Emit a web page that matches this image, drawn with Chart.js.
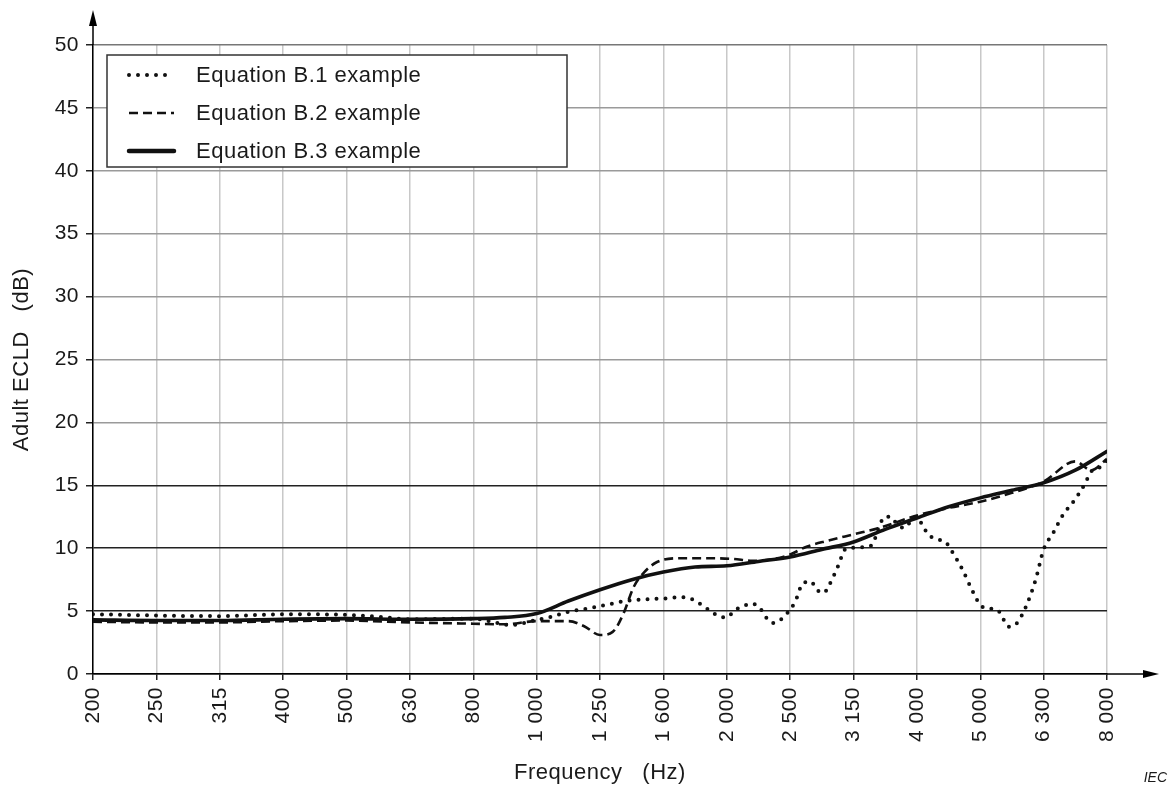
<!DOCTYPE html>
<html>
<head>
<meta charset="utf-8">
<title>Adult ECLD</title>
<script src="https://cdn.jsdelivr.net/npm/chart.js@4.4.1/dist/chart.umd.min.js"></script>
<style>
    html, body { margin: 0; padding: 0; background: #fff; }
    #chart { display: block; }
</style>
</head>
<body>
<canvas id="chart" width="1174" height="787"></canvas>
<script>
// ---- data (x = position in 1/3-octave bands, 0 = 200 Hz, 16 = 8 000 Hz) ----
const bandLabels = ['200', '250', '315', '400', '500', '630', '800', '1 000', '1 250',
    '1 600', '2 000', '2 500', '3 150', '4 000', '5 000', '6 300', '8 000'];

const b1Pos = [0, 1, 2, 3, 4, 4.5, 5, 6, 6.6, 7, 7.2, 7.5, 7.8, 8.1, 8.4, 8.6, 9.0, 9.3, 9.47, 9.6,
    9.73, 9.87, 10.0, 10.12, 10.26, 10.4, 10.53, 10.62, 10.73, 10.87, 10.98, 11.08, 11.2, 11.33,
    11.42, 11.53, 11.62, 11.75, 11.88, 12.05, 12.18, 12.3, 12.4, 12.5, 12.58, 12.69, 12.8, 12.9,
    13.0, 13.1, 13.2, 13.34, 13.47, 13.56, 13.72, 13.85, 14.0, 14.13, 14.27, 14.36, 14.45, 14.57,
    14.66, 14.78, 14.88, 15.0, 15.15, 15.3, 15.5, 15.66, 15.75, 15.85, 16];
const b1Vals = [4.75, 4.65, 4.6, 4.75, 4.7, 4.55, 4.35, 4.4, 3.9, 4.3, 4.5, 4.95, 5.2, 5.5, 5.8, 5.9, 6.0, 6.1, 5.9, 5.5,
    5.05, 4.6, 4.5, 5.05, 5.4, 5.6, 5.2, 4.5, 4.05, 4.4, 5.0, 5.75, 7.2, 7.35,
    6.7, 6.45, 7.1, 8.5, 9.95, 10.05, 10.1, 10.3, 11.7, 12.5, 12.5, 11.9, 11.6, 12.1,
    12.5, 11.7, 11.0, 10.7, 10.4, 9.7, 8.3, 6.9, 5.5, 5.2, 5.1, 4.4, 3.75, 4.0,
    4.7, 6.1, 7.6, 9.9, 11.2, 12.6, 13.9, 15.2, 16.1, 16.3, 17.0];

const b2Pos = [0, 1, 2, 3, 4, 5, 6, 6.5, 7, 7.5, 7.75, 8, 8.2, 8.37, 8.53, 8.7, 8.9, 9.25, 9.7, 10.1,
    10.4, 10.7, 11, 11.25, 11.6, 12, 12.4, 13, 13.5, 14, 14.5, 15, 15.5, 15.75, 16];
const b2Vals = [4.15, 4.1, 4.1, 4.2, 4.25, 4.1, 4.0, 3.95, 4.2, 4.2, 3.8, 3.1, 3.35, 4.8, 6.9, 8.1, 8.9, 9.2, 9.2, 9.15,
    9.0, 9.1, 9.5, 10.1, 10.6, 11.1, 11.6, 12.6, 13.2, 13.7, 14.4, 15.3, 16.9, 16.2, 17.1];

const b3Pos = [0, 1, 2, 3, 4, 5, 6, 6.5, 7, 7.5, 8, 8.5, 9, 9.5, 10, 10.5, 11, 11.5, 12, 12.5,
    13, 13.5, 14, 14.5, 15, 15.5, 16];
const b3Vals = [4.3, 4.25, 4.25, 4.35, 4.4, 4.35, 4.4, 4.5, 4.8, 5.8, 6.7, 7.5, 8.1, 8.5, 8.6, 8.95, 9.3, 9.9, 10.5, 11.5,
    12.4, 13.3, 14.0, 14.6, 15.2, 16.2, 17.7];

const seriesNames = ['Equation B.1 example', 'Equation B.2 example', 'Equation B.3 example'];

const FONT = "'Liberation Sans', Arial, sans-serif";
const INK = '#1a1a1a';

function toPoints(xs, ys) {
    return xs.map((x, i) => ({ x: x, y: ys[i] }));
}

// The original lettering is a little wider than Arial: add some tracking
const tracking = {
    id: 'tracking',
    beforeLayout(chart) { chart.ctx.letterSpacing = '0.5px'; },
    beforeDraw(chart) { chart.ctx.letterSpacing = '0.5px'; }
};

// Legend box drawn inside the plot, top left
const boxLegend = {
    id: 'boxLegend',
    afterDraw(chart) {
        const ctx = chart.ctx;
        const box = { x: 107, y: 55, w: 460, h: 112 };
        ctx.save();
        ctx.fillStyle = '#fff';
        ctx.fillRect(box.x, box.y, box.w, box.h);
        ctx.strokeStyle = '#333';
        ctx.lineWidth = 1.5;
        ctx.strokeRect(box.x, box.y, box.w, box.h);

        chart.data.datasets.forEach((ds, i) => {
            const y = 75 + i * 38;
            ctx.beginPath();
            ctx.strokeStyle = ds.borderColor;
            ctx.lineWidth = i === 2 ? 4.5 : ds.borderWidth;
            ctx.lineCap = ds.borderCapStyle || 'butt';
            ctx.setLineDash(ds.borderDash || []);
            ctx.moveTo(129, y);
            ctx.lineTo(174, y);
            ctx.stroke();
            ctx.setLineDash([]);

            ctx.fillStyle = INK;
            ctx.font = '22px ' + FONT;
            ctx.textBaseline = 'middle';
            ctx.textAlign = 'left';
            ctx.fillText(ds.label, 196, y + 1);
        });
        ctx.restore();
    }
};

// Axis arrows and the IEC mark
const axisArrows = {
    id: 'axisArrows',
    afterDraw(chart) {
        const ctx = chart.ctx;
        const a = chart.chartArea;
        ctx.save();
        ctx.strokeStyle = '#000';
        ctx.fillStyle = '#000';
        ctx.lineWidth = 1.5;

        // y axis up
        ctx.beginPath();
        ctx.moveTo(a.left, a.top);
        ctx.lineTo(a.left, 20);
        ctx.stroke();
        ctx.beginPath();
        ctx.moveTo(a.left, 10);
        ctx.lineTo(a.left - 4, 26);
        ctx.lineTo(a.left + 4, 26);
        ctx.closePath();
        ctx.fill();

        // x axis right
        ctx.beginPath();
        ctx.moveTo(a.right, a.bottom);
        ctx.lineTo(1150, a.bottom);
        ctx.stroke();
        ctx.beginPath();
        ctx.moveTo(1159, a.bottom);
        ctx.lineTo(1143, a.bottom - 4);
        ctx.lineTo(1143, a.bottom + 4);
        ctx.closePath();
        ctx.fill();

        ctx.letterSpacing = '0px';
        ctx.font = 'italic 14px ' + FONT;
        ctx.fillStyle = INK;
        ctx.textAlign = 'right';
        ctx.textBaseline = 'alphabetic';
        ctx.fillText('IEC', 1167, 782);
        ctx.restore();
    }
};

const ctx = document.getElementById('chart');
new Chart(ctx, {
    type: 'line',
    data: {
        datasets: [{
            label: seriesNames[0],
            data: toPoints(b1Pos, b1Vals),
            borderColor: '#111',
            borderWidth: 4,
            borderDash: [0, 9],
            borderCapStyle: 'round',
            pointRadius: 0,
            fill: false,
            cubicInterpolationMode: 'monotone'
        }, {
            label: seriesNames[1],
            data: toPoints(b2Pos, b2Vals),
            borderColor: '#111',
            borderWidth: 2.6,
            borderDash: [9, 5],
            borderCapStyle: 'butt',
            pointRadius: 0,
            fill: false,
            cubicInterpolationMode: 'monotone'
        }, {
            label: seriesNames[2],
            data: toPoints(b3Pos, b3Vals),
            borderColor: '#111',
            borderWidth: 3.6,
            borderCapStyle: 'round',
            pointRadius: 0,
            fill: false,
            cubicInterpolationMode: 'monotone'
        }]
    },
    options: {
        responsive: false,
        animation: false,
        devicePixelRatio: 1,
        layout: {
            padding: { top: 45, right: 67, left: 0, bottom: 0 }
        },
        plugins: {
            legend: { display: false },
            tooltip: { enabled: false }
        },
        scales: {
            x: {
                type: 'linear',
                min: 0,
                max: 16,
                afterFit: (scale) => { scale.height = 113; },
                ticks: {
                    stepSize: 1,
                    autoSkip: false,
                    minRotation: 90,
                    maxRotation: 90,
                    color: INK,
                    padding: 7,
                    font: { size: 21, family: FONT },
                    callback: (v) => bandLabels[v]
                },
                grid: {
                    color: '#c8c8c8',
                    lineWidth: 1.5,
                    tickColor: '#222',
                    tickLength: 6
                },
                border: { display: true, color: '#000', width: 1.5 },
                title: {
                    display: true,
                    text: 'Frequency   (Hz)',
                    color: INK,
                    font: { size: 22, family: FONT },
                    padding: { top: 0, bottom: 1 }
                }
            },
            y: {
                min: 0,
                max: 50,
                afterFit: (scale) => { scale.width = 93; },
                ticks: {
                    stepSize: 5,
                    color: INK,
                    padding: 7,
                    font: { size: 21, family: FONT }
                },
                grid: {
                    color: (c) => {
                        const v = c.tick ? c.tick.value : 0;
                        if (v === 50) return '#777';
                        return v <= 15 ? '#222' : '#9a9a9a';
                    },
                    lineWidth: 1.5,
                    tickColor: '#222',
                    tickLength: 7
                },
                border: { display: true, color: '#000', width: 1.5 },
                title: {
                    display: true,
                    text: 'Adult ECLD   (dB)',
                    color: INK,
                    font: { size: 22, family: FONT },
                    padding: { top: 9, bottom: 0 }
                }
            }
        }
    },
    plugins: [tracking, boxLegend, axisArrows]
});
</script>
</body>
</html>
